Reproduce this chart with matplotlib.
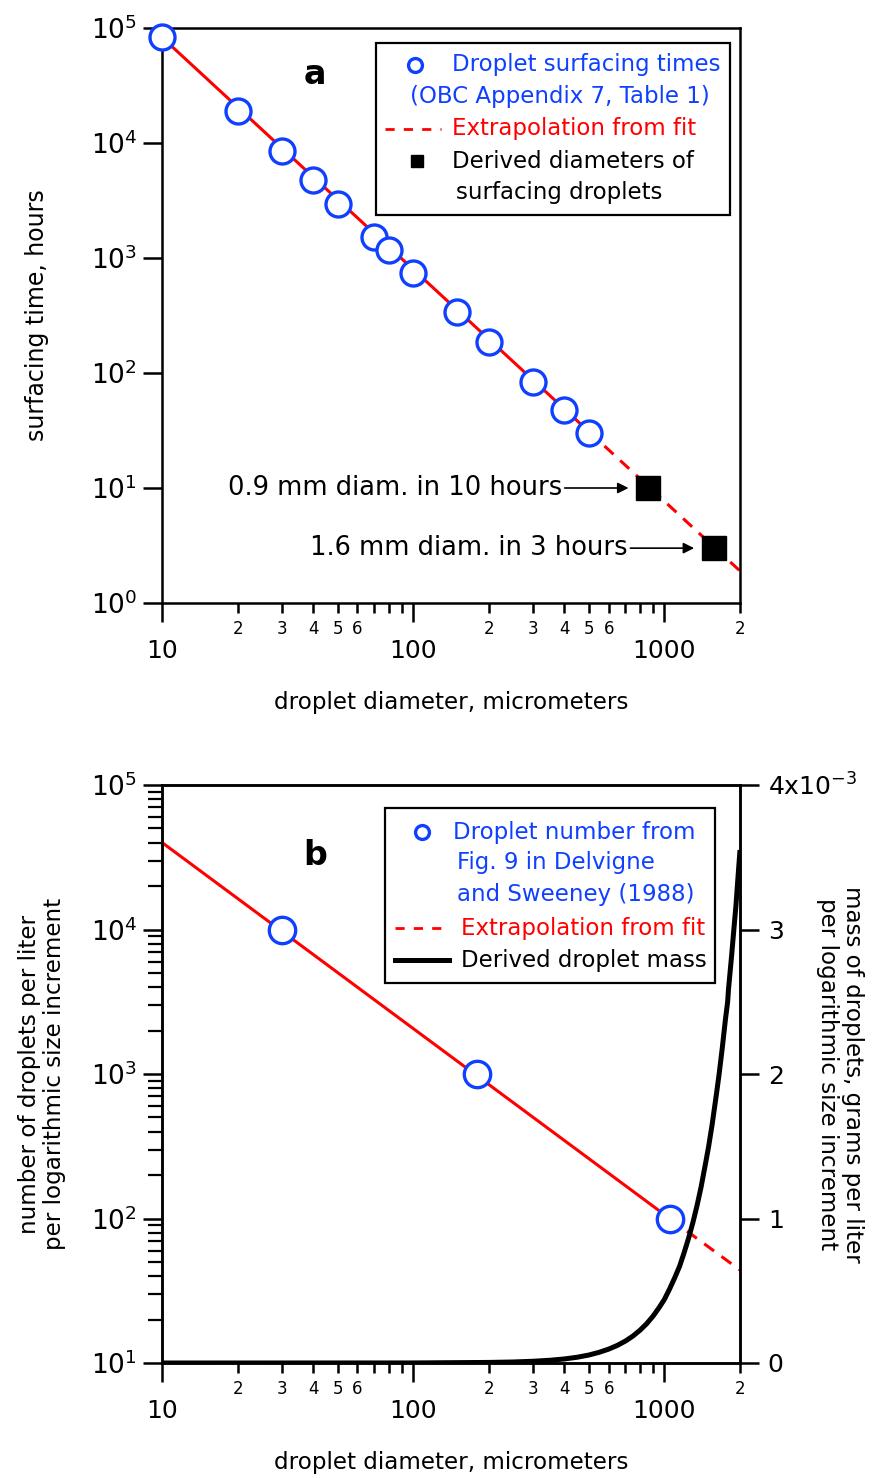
import numpy as np
import matplotlib
matplotlib.use("Agg")
import matplotlib.pyplot as plt
from matplotlib.lines import Line2D
from matplotlib.patches import Rectangle
from matplotlib.ticker import LogLocator, NullLocator, FuncFormatter, FixedLocator, FixedFormatter, NullFormatter

plt.rcParams['font.family'] = ['DejaVu Sans']

# ─── DATA ─────────────────────────────────────────────────────────────────────
# panel a: surfacing times (OBC Appendix 7, Table 1)
a_diam = [10, 20, 30, 40, 50, 70, 80, 100, 150, 200, 300, 400, 500]
a_time = [83000, 19000, 8500, 4760, 2950, 1530, 1175, 745, 341, 186, 84, 47.7, 30]
a_fit_x = [10, 500]
a_fit_y = [83000, 31]
a_ext_x = [500, 2000]
a_ext_y = [31, 1.9]
sq_diam = [860, 1570]
sq_time = [10, 3]
sq_labels = ["0.9 mm diam. in 10 hours", "1.6 mm diam. in 3 hours"]

# panel b: droplet numbers (Delvigne and Sweeney 1988)
b_diam = [30, 180, 1050]
b_num = [1e4, 1e3, 1e2]
b_fit_x = [10, 1050]
b_fit_y = [40000, 100]
b_ext_x = [1050, 2000]
b_ext_y = [100, 44]
mass_diam = [10, 100, 200, 250, 300, 350, 400, 450, 500, 550, 600, 650, 700, 750,
             800, 850, 900, 950, 1000, 1050, 1100, 1150, 1200, 1250, 1300, 1350,
             1400, 1465, 1500, 1550, 1614, 1650, 1700, 1750, 1786, 1800, 1850,
             1900, 1928, 1950, 2000]
mass_val = [0.0, 0.0004, 0.004, 0.007, 0.012, 0.019, 0.028, 0.04, 0.055, 0.074,
            0.096, 0.122, 0.152, 0.187, 0.227, 0.272, 0.323, 0.38, 0.44, 0.514,
            0.591, 0.67, 0.767, 0.867, 0.975, 1.092, 1.218, 1.40, 1.498, 1.653,
            1.87, 1.994, 2.18, 2.378, 2.50, 2.588, 2.81, 3.044, 3.17, 3.291,
            3.55]  # x1e-3 g/L

BLUE = "#1040ff"
RED = "#ff0000"
W, H = 873, 1478
FS_TXT = 16.5


def fx(x):
    return x / W


def fy(y):
    return 1 - y / H


def minor_fmt(v, pos):
    d = int(round(v / 10 ** np.floor(np.log10(v) + 1e-9)))
    return str(d) if d in (2, 3, 4, 5, 6) else ""


def style_axes(ax):
    for s in ax.spines.values():
        s.set_linewidth(1.8)
    ax.tick_params(which="both", direction="out", width=1.8, top=False, right=False)
    ax.tick_params(which="major", length=14)
    ax.set_xscale("log")
    ax.set_xlim(10, 2000)
    ax.xaxis.set_major_locator(FixedLocator([10, 100, 1000]))
    ax.xaxis.set_major_formatter(FixedFormatter(["10", "100", "1000"]))
    ax.xaxis.set_minor_locator(LogLocator(base=10, subs=np.arange(2, 10)))
    ax.xaxis.set_minor_formatter(FuncFormatter(minor_fmt))
    ax.tick_params(axis="x", which="major", labelsize=18, pad=12)
    ax.tick_params(axis="x", which="minor", length=7, labelsize=12, pad=5)
    ax.tick_params(axis="y", which="major", labelsize=19, pad=4)


fig = plt.figure(figsize=(W / 100, H / 100), dpi=100)

# ─── PANEL A ──────────────────────────────────────────────────────────────────
ax_a = fig.add_axes([fx(162), fy(603), (740 - 162) / W, (603 - 28) / H])
style_axes(ax_a)
ax_a.set_yscale("log")
ax_a.set_ylim(1, 1e5)
ax_a.yaxis.set_major_locator(LogLocator(base=10, numticks=10))
ax_a.yaxis.set_minor_locator(NullLocator())

ax_a.plot(a_fit_x, a_fit_y, color=RED, lw=2.2, zorder=2)
ax_a.plot(a_ext_x, a_ext_y, color=RED, lw=2.2, dashes=(4, 3), zorder=2)
ax_a.plot(a_diam, a_time, "o", ms=18, mfc="white", mec=BLUE, mew=2.4, zorder=3,
          clip_on=False)
ax_a.plot(sq_diam, sq_time, "s", ms=17, color="black", zorder=3)
for d, t, lab in zip(sq_diam, sq_time, sq_labels):
    ax_a.annotate(lab, xy=(d, t), xytext=(-86, 0), textcoords="offset pixels",
                  ha="right", va="center", fontsize=18.5,
                  arrowprops=dict(arrowstyle="-|>", color="black", lw=1.2,
                                  shrinkA=0, shrinkB=14, mutation_scale=16))

ax_a.set_xlabel("droplet diameter, micrometers", fontsize=16.6, va="center")
ax_a.xaxis.set_label_coords(0.5, (603 - 702) / 575)
ax_a.set_ylabel("surfacing time, hours", fontsize=17, va="center")
ax_a.yaxis.set_label_coords((37 - 162) / 578, 0.5)
ax_a.text(fx(315), fy(75), "a", transform=fig.transFigure, fontsize=24,
          fontweight="bold", ha="center", va="center")

# legend a
fig.add_artist(Rectangle((fx(376), fy(215)), (730 - 376) / W, (215 - 43) / H,
                         transform=fig.transFigure, fc="white", ec="black", lw=1.6,
                         zorder=5))
fig.add_artist(Line2D([fx(415)], [fy(65)], marker="o", ms=10, mfc="white", mec=BLUE,
                      mew=2.4, transform=fig.transFigure, zorder=6))
fig.add_artist(Line2D([fx(385), fx(441)], [fy(129), fy(129)], color=RED, lw=2,
                      dashes=(3.3, 3.3), transform=fig.transFigure, zorder=6))
fig.add_artist(Line2D([fx(417)], [fy(161)], marker="s", ms=9, color="black",
                      transform=fig.transFigure, zorder=6))
for x, y, s, c in [(452, 65, "Droplet surfacing times", BLUE),
                   (410, 97, "(OBC Appendix 7, Table 1)", BLUE),
                   (452, 129, "Extrapolation from fit", RED),
                   (452, 161, "Derived diameters of", "black"),
                   (456, 193, "surfacing droplets", "black")]:
    fig.text(fx(x), fy(y), s, color=c, fontsize=FS_TXT, ha="left", va="center",
             zorder=7)

# ─── PANEL B ──────────────────────────────────────────────────────────────────
ax_b = fig.add_axes([fx(162), fy(1363), (740 - 162) / W, (1363 - 785) / H])
style_axes(ax_b)
ax_b.set_yscale("log")
ax_b.set_ylim(10, 1e5)
ax_b.yaxis.set_major_locator(LogLocator(base=10, numticks=10))
ax_b.yaxis.set_minor_locator(LogLocator(base=10, subs=np.arange(2, 10), numticks=20))
ax_b.yaxis.set_minor_formatter(NullFormatter())
ax_b.tick_params(axis="y", which="minor", length=10, width=1.6)

ax_b.plot(b_fit_x, b_fit_y, color=RED, lw=2.2, zorder=2)
ax_b.plot(b_ext_x, b_ext_y, color=RED, lw=2.2, dashes=(4, 3), zorder=2)
ax_b.plot(b_diam, b_num, "o", ms=19, mfc="white", mec=BLUE, mew=2.4, zorder=3)

ax_b2 = ax_b.twinx()
ax_b2.set_ylim(0, 4e-3)
ax_b2.plot(mass_diam, np.array(mass_val) * 1e-3, color="black", lw=3.6,
           solid_capstyle="butt", solid_joinstyle="round", zorder=2)
for s in ax_b2.spines.values():
    s.set_linewidth(1.8)
ax_b2.yaxis.set_major_locator(FixedLocator([0, 1e-3, 2e-3, 3e-3, 4e-3]))
ax_b2.yaxis.set_major_formatter(FixedFormatter(["0", "1", "2", "3", "4x10$^{-3}$"]))
ax_b2.tick_params(axis="y", direction="out", length=14, width=1.8, labelsize=18, pad=6)

ax_b.set_xlabel("droplet diameter, micrometers", fontsize=16.6, va="center")
ax_b.xaxis.set_label_coords(0.5, (1363 - 1462) / 578)
ax_b.set_ylabel("number of droplets per liter\nper logarithmic size increment",
                fontsize=16.6, va="center", linespacing=1.1)
ax_b.yaxis.set_label_coords((42 - 162) / 578, 0.5)
ax_b2.set_ylabel("mass of droplets, grams per liter\nper logarithmic size increment",
                 fontsize=16.6, va="center", rotation=270, linespacing=1.1)
ax_b2.yaxis.set_label_coords((840 - 162) / 578, 0.5)
fig.text(fx(315), fy(855), "b", fontsize=24, fontweight="bold", ha="center",
         va="center")

# legend b
fig.add_artist(Rectangle((fx(385), fy(983)), (715 - 385) / W, (983 - 808) / H,
                         transform=fig.transFigure, fc="white", ec="black", lw=1.6,
                         zorder=5))
fig.add_artist(Line2D([fx(422)], [fy(832)], marker="o", ms=10, mfc="white", mec=BLUE,
                      mew=2.4, transform=fig.transFigure, zorder=6))
fig.add_artist(Line2D([fx(395), fx(449)], [fy(928), fy(928)], color=RED, lw=2,
                      dashes=(3.3, 3.3), transform=fig.transFigure, zorder=6))
fig.add_artist(Line2D([fx(395), fx(449)], [fy(960), fy(960)], color="black", lw=3.6,
                      transform=fig.transFigure, zorder=6))
for x, y, s, c in [(453, 832, "Droplet number from", BLUE),
                   (457, 863, "Fig. 9 in Delvigne", BLUE),
                   (457, 895, "and Sweeney (1988)", BLUE),
                   (461, 928, "Extrapolation from fit", RED),
                   (461, 960, "Derived droplet mass", "black")]:
    fig.text(fx(x), fy(y), s, color=c, fontsize=FS_TXT, ha="left", va="center",
             zorder=7)

fig.savefig("out.png", dpi=100, facecolor="white")
